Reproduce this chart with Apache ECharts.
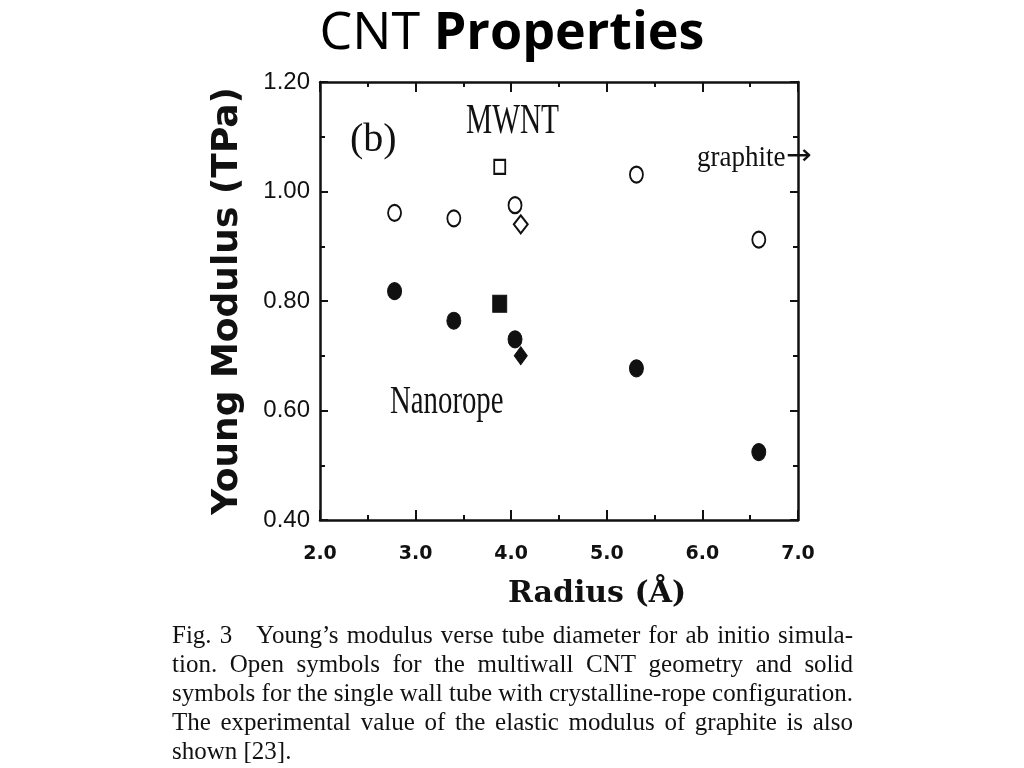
<!DOCTYPE html>
<html>
<head>
<meta charset="utf-8">
<script src="https://cdn.jsdelivr.net/npm/echarts@6/dist/echarts.min.js"></script>
<style>html,body{margin:0;padding:0;background:#fff;}#c{width:1024px;height:768px;}</style>
</head>
<body>
<div id="c"></div>
<script>
// ---- data ----
const radiusCircle = [2.78, 3.40, 4.04, 5.31, 6.59];
const mwntCircle   = [0.961, 0.951, 0.975, 1.031, 0.912];
const ropeCircle   = [0.818, 0.764, 0.730, 0.677, 0.524];
const radiusSquare = [3.88];
const mwntSquare   = [1.045];
const ropeSquare   = [0.795];
const radiusDiamond = [4.10];
const mwntDiamond   = [0.940];
const ropeDiamond   = [0.700];
const xRange = [2.0, 7.0];
const yRange = [0.40, 1.20];
const titleMain = 'CNT';
const titleBold = 'Properties';
const xTitle = 'Radius (Å)';
const yTitle = 'Young Modulus (TPa)';
const captionLines = [
  'Fig. 3   Young\u2019s modulus verse tube diameter for ab initio simula-',
  'tion. Open symbols for the multiwall CNT geometry and solid',
  'symbols for the single wall tube with crystalline-rope configuration.',
  'The experimental value of the elastic modulus of graphite is also',
  'shown [23].'
];

function pairs(xs, ys) { return xs.map((x, i) => [x, ys[i]]); }

const ink = '#111';
const serif = '"Liberation Serif", "DejaVu Serif", serif';

// justified caption
const capFont = '25px "Liberation Serif"';
const capLeft = 172, capRight = 853, capY0 = 636, capDy = 29;
const measure = document.createElement('canvas').getContext('2d');
measure.font = capFont;
const captionEls = [];
captionLines.forEach((line, li) => {
  const y = capY0 + li * capDy;
  if (li === captionLines.length - 1) {
    captionEls.push({ type: 'text', x: capLeft, y: y, style: { text: line, font: capFont, fill: ink, textVerticalAlign: 'middle' } });
    return;
  }
  const parts = line.split(/( +)/);
  const words = [], gaps = [];
  parts.forEach((p, i) => { if (i % 2 === 0) words.push(p); else gaps.push(p.length); });
  const wsum = words.reduce((s, w) => s + measure.measureText(w).width, 0);
  const gsum = gaps.reduce((s, g) => s + g, 0);
  const unit = (capRight - capLeft - wsum) / gsum;
  let x = capLeft;
  words.forEach((w, i) => {
    captionEls.push({ type: 'text', x: x, y: y, style: { text: w, font: capFont, fill: ink, textVerticalAlign: 'middle' } });
    x += measure.measureText(w).width + (i < gaps.length ? gaps[i] * unit : 0);
  });
});

const chart = echarts.init(document.getElementById('c'));
const axisLine = { show: true, lineStyle: { color: ink, width: 2.5 } };
const openStyle = { color: '#fff', borderColor: ink, borderWidth: 2, opacity: 1 };
const solidStyle = { color: ink, borderColor: ink, borderWidth: 1, opacity: 1 };

chart.setOption({
  backgroundColor: '#fff',
  animation: false,
  title: {
    left: 'center', top: 3,
    text: '{a|' + titleMain + ' }{b|' + titleBold + '}',
    textStyle: {
      fontWeight: 'normal',
      rich: {
        a: { fontFamily: '"Open Sans", sans-serif', fontSize: 52, fontWeight: 'normal', color: '#000' },
        b: { fontFamily: '"Open Sans", sans-serif', fontSize: 52, fontWeight: 'bold', color: '#000' }
      }
    }
  },
  grid: { left: 320, right: 226, top: 82, bottom: 248 },
  xAxis: [{
    type: 'value', min: xRange[0], max: xRange[1], interval: 1,
    position: 'bottom',
    axisLine: axisLine,
    axisTick: { show: true, inside: true, length: 10, lineStyle: { color: ink, width: 2 } },
    minorTick: { show: true, splitNumber: 2, length: 5, lineStyle: { color: ink, width: 2 } },
    splitLine: { show: false },
    axisLabel: { margin: 25, fontFamily: '"DejaVu Sans", sans-serif', fontWeight: 'bold', fontSize: 19, color: ink,
      formatter: v => v.toFixed(1) },
    name: xTitle, nameLocation: 'middle', nameGap: 59,
    nameTextStyle: { fontFamily: '"DejaVu Serif", serif', fontWeight: 'bold', fontSize: 30, color: ink, padding: [0, 0, 0, 76] }
  }, {
    type: 'value', min: xRange[0], max: xRange[1], interval: 1,
    position: 'top',
    axisLine: axisLine,
    axisTick: { show: true, inside: true, length: 10, lineStyle: { color: ink, width: 2 } },
    minorTick: { show: true, splitNumber: 2, length: 5, lineStyle: { color: ink, width: 2 } },
    splitLine: { show: false },
    axisLabel: { show: false }
  }],
  yAxis: [{
    type: 'value', min: yRange[0], max: yRange[1], interval: 0.2,
    position: 'left',
    axisLine: axisLine,
    axisTick: { show: true, inside: true, length: 8, lineStyle: { color: ink, width: 2 } },
    minorTick: { show: true, splitNumber: 2, length: 5, lineStyle: { color: ink, width: 2 } },
    splitLine: { show: false },
    axisLabel: { margin: 10, fontFamily: '"Liberation Sans", sans-serif', fontSize: 24, color: ink,
      formatter: v => v.toFixed(2) },
    name: yTitle, nameLocation: 'middle', nameGap: 74, nameRotate: 90,
    nameTextStyle: { fontFamily: '"DejaVu Sans", sans-serif', fontWeight: 'bold', fontSize: 36, color: ink }
  }, {
    type: 'value', min: yRange[0], max: yRange[1], interval: 0.2,
    position: 'right',
    axisLine: axisLine,
    axisTick: { show: true, inside: true, length: 8, lineStyle: { color: ink, width: 2 } },
    minorTick: { show: true, splitNumber: 2, length: 5, lineStyle: { color: ink, width: 2 } },
    splitLine: { show: false },
    axisLabel: { show: false }
  }],
  series: [
    { name: 'MWNT circle', type: 'scatter', data: pairs(radiusCircle, mwntCircle), symbol: 'circle', symbolSize: [13, 16], itemStyle: openStyle },
    { name: 'MWNT square', type: 'scatter', data: pairs(radiusSquare, mwntSquare), symbol: 'rect', symbolSize: [11, 14], itemStyle: openStyle },
    { name: 'MWNT diamond', type: 'scatter', data: pairs(radiusDiamond, mwntDiamond), symbol: 'diamond', symbolSize: [14, 18], itemStyle: openStyle },
    { name: 'Nanorope circle', type: 'scatter', data: pairs(radiusCircle, ropeCircle), symbol: 'circle', symbolSize: [14, 17], itemStyle: solidStyle },
    { name: 'Nanorope square', type: 'scatter', data: pairs(radiusSquare, ropeSquare), symbol: 'rect', symbolSize: [14, 17], itemStyle: solidStyle },
    { name: 'Nanorope diamond', type: 'scatter', data: pairs(radiusDiamond, ropeDiamond), symbol: 'diamond', symbolSize: [13, 18], itemStyle: solidStyle }
  ],
  graphic: [
    { type: 'text', x: 350, y: 140, style: { text: '(b)', font: '40px ' + serif, fill: ink, textVerticalAlign: 'middle' } },
    { type: 'text', x: 466, y: 122, scaleX: 0.7, style: { text: 'MWNT', font: '42px ' + serif, fill: ink, textVerticalAlign: 'middle' } },
    { type: 'text', x: 697, y: 158, scaleX: 0.9, style: { text: 'graphite', font: '30px ' + serif, fill: ink, textVerticalAlign: 'middle' } },
    { type: 'text', x: 786, y: 157, scaleX: 1.1, style: { text: '\u2192', font: '28px "DejaVu Sans", sans-serif', fill: ink, textVerticalAlign: 'middle' } },
    { type: 'text', x: 390, y: 402, scaleX: 0.72, style: { text: 'Nanorope', font: '40px ' + serif, fill: ink, textVerticalAlign: 'middle' } }
  ].concat(captionEls)
});
</script>
</body>
</html>
